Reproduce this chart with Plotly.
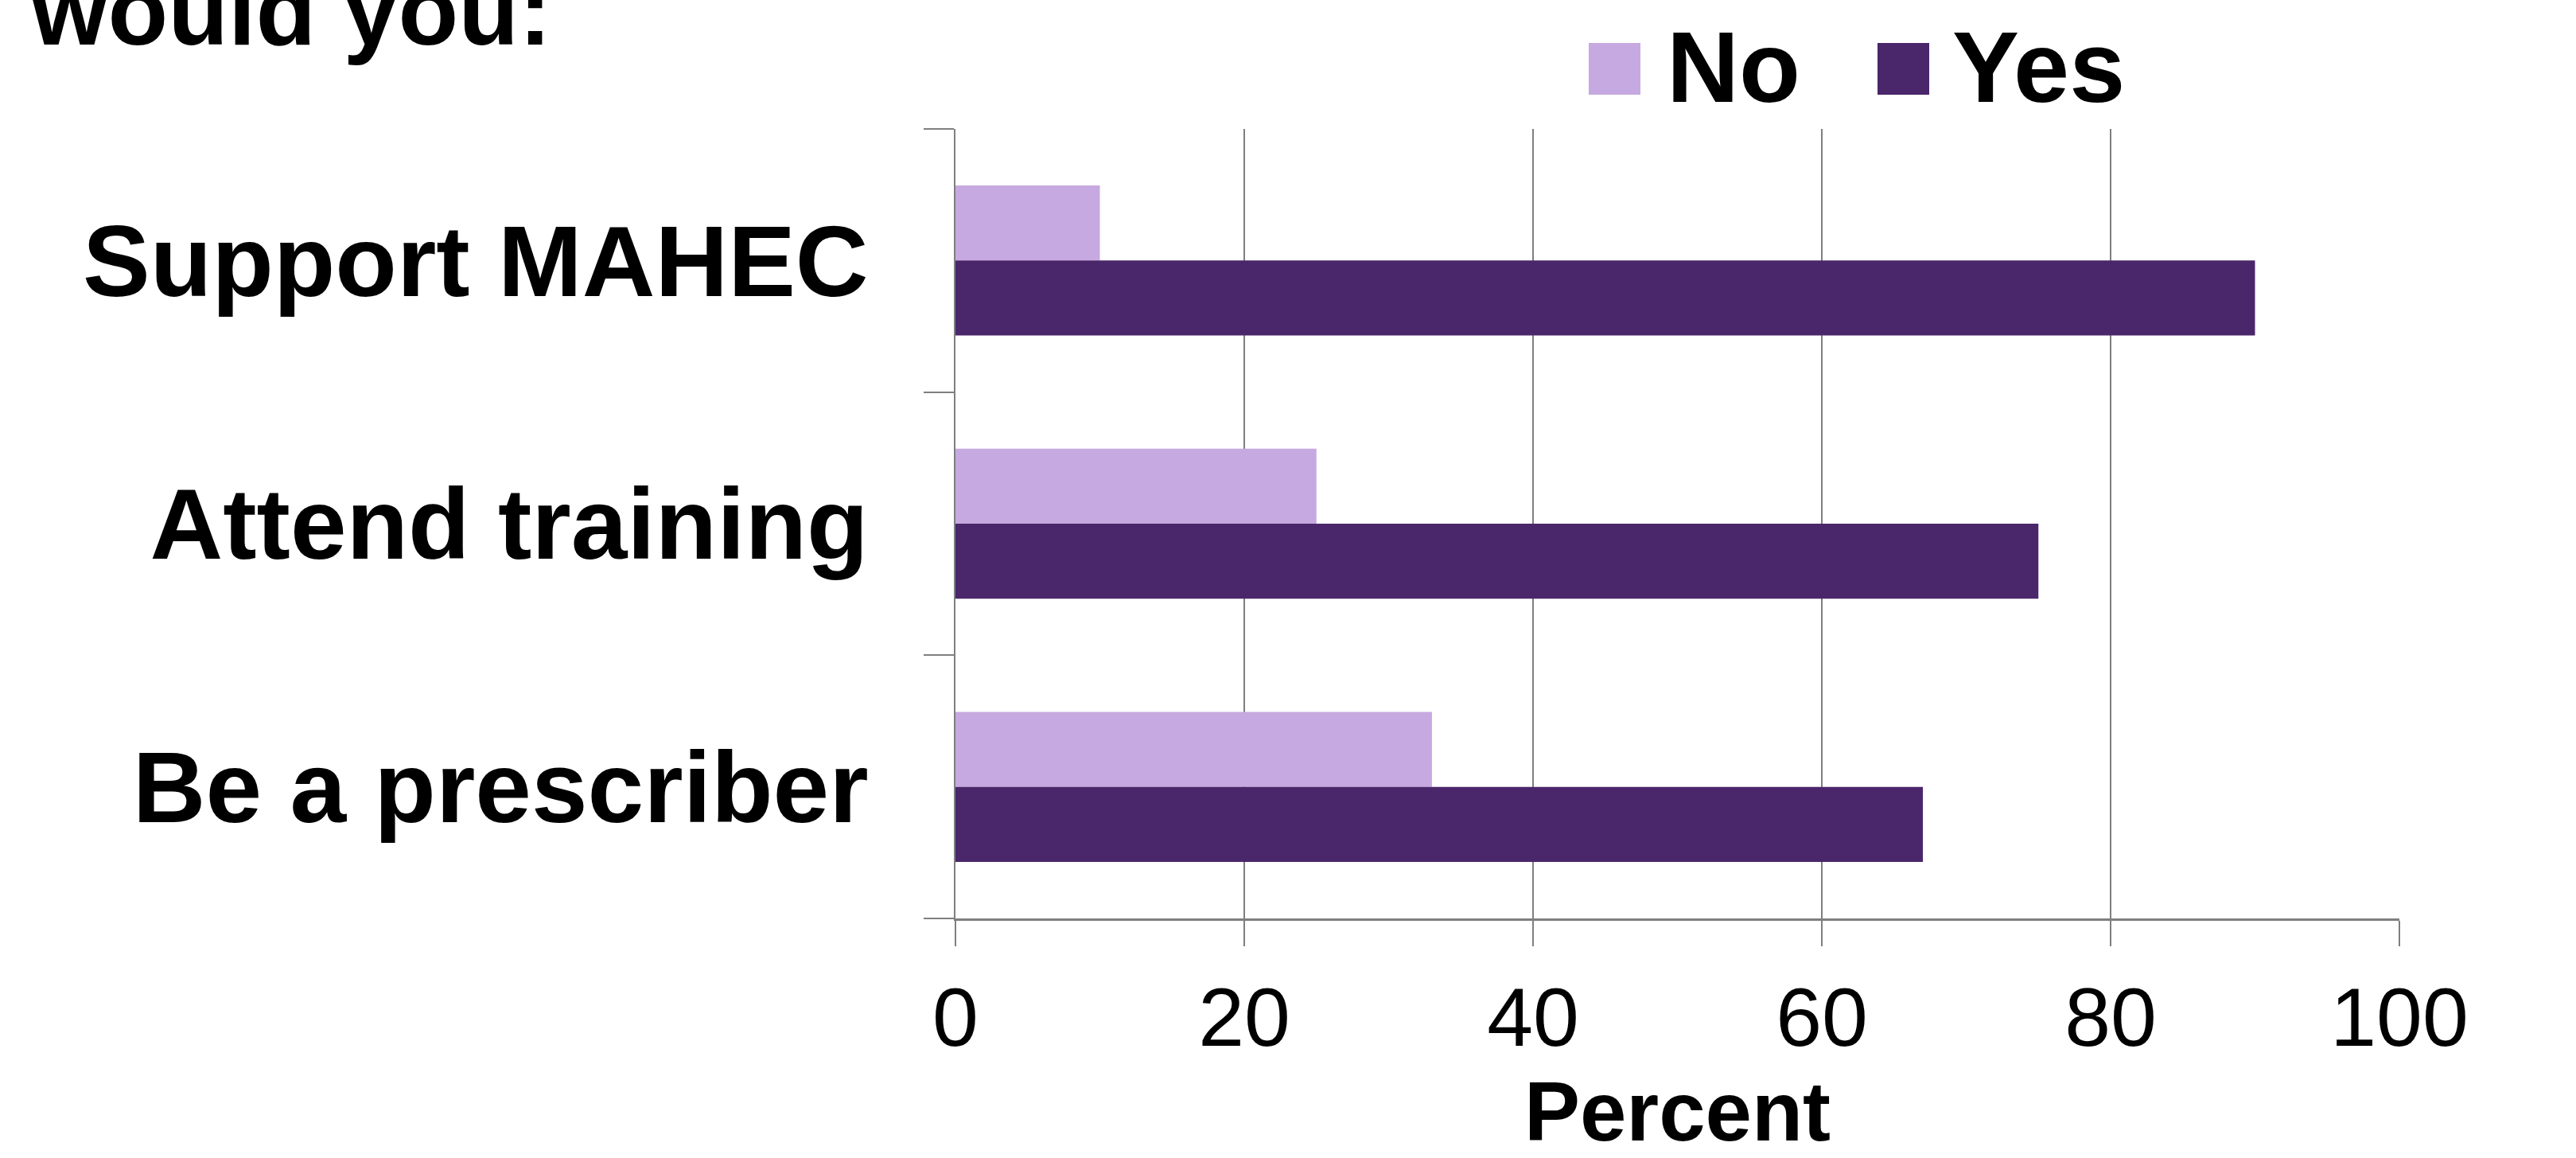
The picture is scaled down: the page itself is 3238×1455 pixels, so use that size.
import plotly.graph_objects as go

categories = ["Support MAHEC", "Attend training", "Be a prescriber"]
no_values = [10, 25, 33]
yes_values = [90, 75, 67]
series_names = ["No", "Yes"]
series_colors = ["#C6A9E0", "#4A266A"]
x_ticks = [0, 20, 40, 60, 80, 100]
title_text = "would you:"
x_title = "Percent"

W, H = 3238, 1455
L, R, T, B = 1201, 3016, 162, 1154
FONT = "Liberation Sans, Arial, sans-serif"
GRID = "#7F7F7F"


def px(xp):
    return (xp - L) / (R - L)


def py(yp):
    return (B - yp) / (B - T)


fig = go.Figure()
for name, vals, col in zip(series_names, [no_values, yes_values], series_colors):
    fig.add_trace(go.Bar(
        y=categories, x=vals, name=name, orientation="h",
        marker=dict(color=col, line=dict(width=0)),
        showlegend=False,
    ))

fig.update_layout(
    width=W, height=H,
    margin=dict(l=L, r=W - R, t=T, b=H - B, pad=0, autoexpand=False),
    paper_bgcolor="white", plot_bgcolor="white",
    barmode="group", bargap=0.43, bargroupgap=0,
    font=dict(family=FONT, color="black"),
)
fig.update_xaxes(
    automargin=False,
    range=[0, 100], tickvals=x_ticks, ticktext=[str(v) for v in x_ticks],
    showgrid=True, gridcolor=GRID, gridwidth=1.5,
    showline=True, linecolor=GRID, linewidth=3,
    ticks="outside", ticklen=32, tickcolor=GRID, tickwidth=1.5,
    tickfont=dict(size=104, family=FONT, color="black"),
    ticklabelstandoff=0,
    title=dict(text="<b>" + x_title + "</b>", standoff=56,
               font=dict(size=105, family=FONT, color="black")),
    zeroline=False, fixedrange=True,
)
fig.update_yaxes(
    automargin=False,
    categoryorder="array", categoryarray=categories, autorange="reversed",
    showline=True, linecolor=GRID, linewidth=2,
    ticks="outside", ticklen=38, tickcolor=GRID, tickwidth=2,
    tickson="boundaries",
    tickfont=dict(size=127, family=FONT, color="black"),
    ticktext=["<b>" + c + "</b>" for c in categories], tickvals=categories,
    ticklabelstandoff=82,
    showgrid=False, zeroline=False, fixedrange=True,
)

# title (only its last line is visible in the frame)
fig.add_annotation(
    text="<b>" + title_text + "</b>", xref="paper", yref="paper",
    x=px(36), y=py(84), xanchor="left", yanchor="bottom", showarrow=False,
    font=dict(size=124, family=FONT, color="black"),
)

# legend drawn manually (large square swatches)
legend_items = [(1997, 2093), (2360, 2452)]
for (sx, tx), name, col in zip(legend_items, series_names, series_colors):
    fig.add_shape(type="rect", xref="paper", yref="paper",
                  x0=px(sx), x1=px(sx + 65), y0=py(119), y1=py(54),
                  fillcolor=col, line=dict(width=0))
    fig.add_annotation(
        text="<b>" + name + "</b>", xref="paper", yref="paper",
        x=px(tx), y=py(85), xanchor="left", yanchor="middle", showarrow=False,
        font=dict(size=126, family=FONT, color="black"),
    )

fig.write_html("out.html", config={"displayModeBar": False})
